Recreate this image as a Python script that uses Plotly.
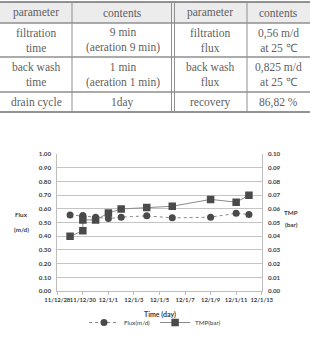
import plotly.graph_objects as go

# ---- table data ----
header_labels = ["parameter", "contents", "parameter", "contents"]
col_param1 = ["filtration<br>time", "back wash<br>time", "drain cycle"]
col_contents1 = ["9 min<br>(aeration 9 min)", "1 min<br>(aeration 1 min)", "1day"]
col_param2 = ["filtration<br>flux", "back wash<br>flux", "recovery"]
col_contents2 = ["0,56 m/d<br>at 25 ℃", "0,825 m/d<br>at 25 ℃", "86,82 %"]

# ---- chart data ----
dates = ["2011-12-29", "2011-12-30", "2011-12-30", "2011-12-31", "2012-01-01",
         "2012-01-02", "2012-01-04", "2012-01-06", "2012-01-09", "2012-01-11", "2012-01-12"]
flux = [0.556, 0.55, 0.55, 0.54, 0.53, 0.54, 0.55, 0.535, 0.54, 0.568, 0.56]
tmp = [0.040, 0.044, 0.052, 0.052, 0.057, 0.060, 0.061, 0.062, 0.067, 0.065, 0.070]

W, H = 310, 337
fig = go.Figure()

# ---- table layout (pixel grid) ----
col_edges = [0, 72, 173, 247, 310]
row_edges = [2, 23, 57, 92, 112]
txt_col = "#5f5f5f"
line_col = "#8f8f8f"
shapes = []
annotations = []

def px(x):
    return x / W

def py(y):
    return 1 - y / H

shapes.append(dict(type="rect", xref="paper", yref="paper", x0=0, x1=1,
                   y0=py(row_edges[1]), y1=py(row_edges[0]),
                   fillcolor="#ececec", line=dict(width=0), layer="below"))
for i, y in enumerate(row_edges):
    shapes.append(dict(type="line", xref="paper", yref="paper", x0=0, x1=1, y0=py(y), y1=py(y),
                       line=dict(color="#6f6f6f" if i in (0, len(row_edges) - 1) else line_col,
                                 width=1.3)))
for j, x in enumerate(col_edges[1:-1]):
    xs = [x - 1.5, x + 1.5] if j == 1 else [x]
    for xx in xs:
        shapes.append(dict(type="line", xref="paper", yref="paper", x0=px(xx), x1=px(xx),
                           y0=py(row_edges[-1]), y1=py(row_edges[0]),
                           line=dict(color=line_col, width=1)))

columns = [col_param1, col_contents1, col_param2, col_contents2]
for c in range(4):
    cx = (col_edges[c] + col_edges[c + 1]) / 2
    cells = [header_labels[c]] + columns[c]
    for r, t in enumerate(cells):
        cy = (row_edges[r] + row_edges[r + 1]) / 2
        annotations.append(dict(text=t, x=px(cx), y=py(cy), xref="paper", yref="paper",
                                xanchor="center", yanchor="middle", align="center",
                                showarrow=False,
                                font=dict(family="Liberation Serif", size=11.5, color=txt_col)))

# ---- chart ----
mk = "#4a4a4a"
fig.add_trace(go.Scatter(x=dates, y=flux, name="Flux(m/d)", mode="lines+markers",
                         line=dict(color="#8a8a8a", width=1, dash="dot"),
                         marker=dict(symbol="circle", size=7, color=mk)))
fig.add_trace(go.Scatter(x=dates, y=tmp, name="TMP(bar)", mode="lines+markers", yaxis="y2",
                         line=dict(color="#8a8a8a", width=1),
                         marker=dict(symbol="square", size=7.5, color=mk)))

lab_col = "#3a3a3a"
tick_font = dict(family="Lato", size=6.2, color=lab_col, weight="bold")
xt_font = dict(family="Lato", size=5.9, color=lab_col, weight="bold")
x0, x1 = 57.3 / W, 261.7 / W
y0, y1 = 46 / H, 182.7 / H

def lab(text, x, y, size=6.3):
    return dict(text=text, x=x / W, y=(H - y) / H, xref="paper", yref="paper",
                xanchor="center", yanchor="middle", showarrow=False,
                font=dict(family="Lato", size=size, color=lab_col, weight="bold"))

annotations += [
    lab("Time (day)", 159.5, 314, 7),
    lab("Flux", 21, 215),
    lab("(m/d)", 21, 229),
    lab("TMP", 291, 212),
    lab("(bar)", 291, 224),
]

fig.update_layout(
    width=W, height=H, autosize=False,
    margin=dict(l=0, r=0, t=0, b=0),
    paper_bgcolor="white", plot_bgcolor="white",
    showlegend=True,
    legend=dict(orientation="h", x=0.5, xanchor="center", y=0, yanchor="bottom",
                font=dict(family="Lato", size=6.2, color=lab_col),
                itemwidth=30, bgcolor="rgba(0,0,0,0)",
                tracegroupgap=0),
    xaxis=dict(domain=[x0, x1], type="date", range=["2011-12-28", "2012-01-13"],
               tick0="2011-12-28", dtick=2 * 86400000, tickformat="%y/%-m/%-d",
               tickangle=0, automargin=False,
               showgrid=False, showline=True, linecolor="#bdbdbd", linewidth=1,
               ticks="outside", ticklen=3, tickcolor="#bdbdbd",
               tickfont=xt_font, anchor="y", zeroline=False),
    yaxis=dict(domain=[y0, y1], range=[0, 1], dtick=0.1, tickformat=".2f",
               showgrid=True, gridcolor="#c4c4c4", gridwidth=1, automargin=False,
               showline=True, linecolor="#bdbdbd", zeroline=False,
               tickfont=tick_font, ticklabelstandoff=4, anchor="x"),
    yaxis2=dict(range=[0, 0.1], dtick=0.01, tickformat=".2f", overlaying="y", side="right",
                showgrid=False, showline=True, linecolor="#bdbdbd", zeroline=False,
                automargin=False,
                tickfont=tick_font, ticklabelstandoff=4, anchor="x"),
    shapes=shapes,
    annotations=annotations,
)

fig.write_html("out.html")
